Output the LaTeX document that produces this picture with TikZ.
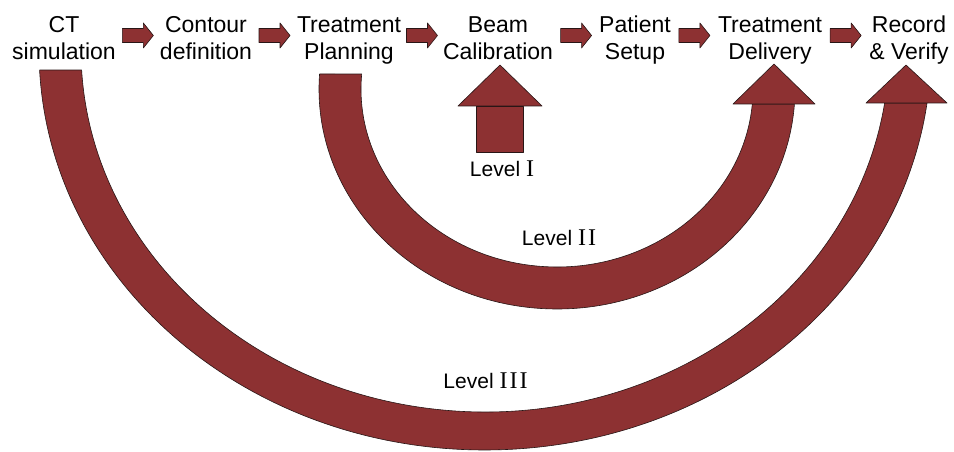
\documentclass[tikz,border=0pt]{standalone}
\usepackage{fontspec}
\setmainfont{Liberation Serif}
\setsansfont{Liberation Sans}
\usetikzlibrary{calc}

\definecolor{arcred}{RGB}{141,49,50}
\definecolor{edgedark}{RGB}{40,22,22}

\tikzset{
  stage/.style={align=center, inner sep=0pt, font=\sffamily\fontsize{23}{27}\selectfont},
  levellabel/.style={inner sep=0pt, font=\sffamily\fontsize{21}{25}\selectfont},
  band/.style={fill=arcred, draw=edgedark, line width=0.6pt, line join=round},
  blockarrow/.pic={
    \path[band] (-15.5,-7) -- (5.5,-7) -- (5.5,-12.5) -- (15.5,0)
      -- (5.5,12.5) -- (5.5,7) -- (-15.5,7) -- cycle;
  }
}
% two-line stage caption with fixed height and depth
\newcommand\twolines[2]{\rule{0pt}{18pt}#1\\#2\rule[-6pt]{0pt}{6pt}}
% serif roman numeral after "Level"
\newcommand\numeral[1]{{\rmfamily\fontsize{24}{28}\selectfont #1}}

\begin{document}
\begin{tikzpicture}[x=1pt,y=1pt]
\useasboundingbox (0,0) rectangle (954,452);
\fill[white] (0,0) rectangle (954,452);

% process stages
\node[stage] (ct)      at (64,411.5)  {\twolines{CT}{simulation}};
\node[stage] (contour) at (206,411.5) {\twolines{Contour}{definition}};
\node[stage] (plan)    at (349,411.5) {\twolines{Treatment}{Planning}};
\node[stage] (calib)   at (498,411.5) {\twolines{Beam}{Calibration}};
\node[stage] (setup)   at (635,411.5) {\twolines{Patient}{Setup}};
\node[stage] (deliv)   at (770,411.5) {\twolines{Treatment}{Delivery}};
\node[stage] (record)  at (909,411.5) {\twolines{Record}{\& Verify}};

% block arrows between consecutive stages
\foreach \a/\b in {ct/contour, contour/plan, plan/calib, calib/setup, setup/deliv, deliv/record}
  \pic at ($(\a.east)!.5!(\b.west)+(0,5)$) {blockarrow};

% Level III: wide arc from CT simulation to Record & Verify
\coordinate (c3) at (485,402);
\path[band] (c3) ++(182.87:446pt and 400pt)
  arc[start angle=182.87, end angle=352.39, x radius=446pt, y radius=400pt]
  -- ($(c3)+(351.58:404pt and 362pt)$)
  arc[start angle=351.58, end angle=183.17, x radius=404pt, y radius=362pt]
  -- cycle;
\path[band] (866,349) -- (906,387) -- (947,349) -- cycle;

% Level II: arc from Treatment Planning to Treatment Delivery
\coordinate (c2) at (557,363);
\path[band] (c2) ++(176.09:238pt and 220pt)
  arc[start angle=176.09, end angle=356.09, x radius=238pt, y radius=220pt]
  -- ($(c2)+(355.17:196pt and 178pt)$)
  arc[start angle=355.17, end angle=175.17, x radius=196pt, y radius=178pt]
  -- cycle;
\path[band] (733,348) -- (774,388) -- (815,348) -- cycle;

% Level I: straight arrow up to Beam Calibration
\path[band] (476,300) rectangle (523,346);
\path[band] (458,346) -- (500,387) -- (542,346) -- cycle;

% level captions
\node[levellabel] (l1) at (502,283)  {Level \numeral{I}};
\node[levellabel] (l2) at (559,214)  {Level \numeral{I\kern2pt I}};
\node[levellabel] (l3) at (485.5,71) {Level \numeral{I\kern2pt I\kern2pt I}};
\end{tikzpicture}
\end{document}
